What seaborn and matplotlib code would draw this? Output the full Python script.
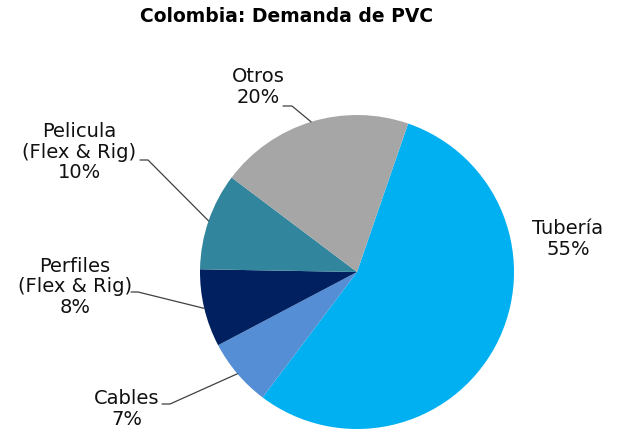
import numpy as np
import matplotlib.pyplot as plt
import seaborn as sns

# ---------------- data ----------------
categories = ['Tubería', 'Cables', 'Perfiles\n(Flex & Rig)', 'Pelicula\n(Flex & Rig)', 'Otros']
shares = [55, 7, 8, 10, 20]
colors = ['#00B0F0', '#558ED5', '#002060', '#31859C', '#A6A6A6']

W, H = 619, 432
sns.set_theme(style='white')
plt.rcParams['font.family'] = ['DejaVu Sans']

fig = plt.figure(figsize=(W / 100, H / 100), dpi=100)
ax = fig.add_axes([0, 0, 1, 1])

cx, cy, r = 357, 432 - 272, 157
wedges, _ = ax.pie(shares, colors=colors, startangle=71, counterclock=False,
                   center=(cx, cy), radius=r, wedgeprops=dict(linewidth=0))
ax.set_xlim(0, W)
ax.set_ylim(0, H)
ax.set_aspect('equal')
ax.axis('off')

# label centres and leader-line elbows (pixel coords, y from top)
label_pos = [(568, 239), (127, 409), (75, 287), (79, 152), (258, 87)]
elbows = [None, ((162, 404), (170, 404)), ((131, 292), (138, 292)),
          ((140, 160), (148, 160)), ((283, 106), (292, 106))]

for w, name, pct, pos, elb in zip(wedges, categories, shares, label_pos, elbows):
    ax.text(pos[0], H - pos[1], f'{name}\n{pct}%', ha='center', va='center',
            fontsize=14, color='#111111', linespacing=1.12)
    if elb is not None:
        mid = np.deg2rad((w.theta1 + w.theta2) / 2)
        ex, ey = cx + r * np.cos(mid), cy + r * np.sin(mid)
        xs = [elb[0][0], elb[1][0], ex]
        ys = [H - elb[0][1], H - elb[1][1], ey]
        ax.plot(xs, ys, color='#404040', lw=0.9)

fig.text(287 / W, 1 - 16 / H, 'Colombia: Demanda de PVC', ha='center', va='center',
         fontsize=13.5, fontweight='bold', color='#000000')

fig.savefig('out.png', dpi=100)
